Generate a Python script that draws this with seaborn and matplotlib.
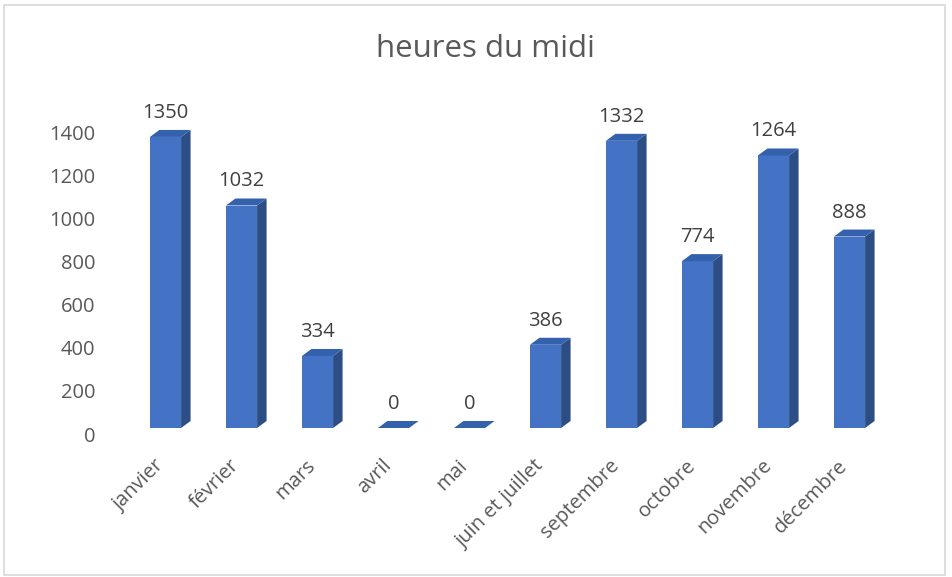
import matplotlib
matplotlib.use("Agg")
import matplotlib.pyplot as plt
import matplotlib.transforms as mtransforms
from matplotlib.patches import Polygon, Rectangle
import seaborn as sns
import pandas as pd

months = ["janvier", "février", "mars", "avril", "mai", "juin et juillet",
          "septembre", "octobre", "novembre", "décembre"]
hours = [1350, 1032, 334, 0, 0, 386, 1332, 774, 1264, 888]
yticks = [0, 200, 400, 600, 800, 1000, 1200, 1400]
title = "heures du midi"

df = pd.DataFrame({"mois": months, "heures": hours})

sns.set_theme(style="white")
plt.rcParams["font.family"] = ["Open Sans", "DejaVu Sans"]

W, H, DPI = 953, 577, 100
fig = plt.figure(figsize=(W / DPI, H / DPI), dpi=DPI)
fig.patch.set_facecolor("white")
fig.add_artist(Rectangle((4 / W, 1 - 575 / H), 941 / W, 570 / H, transform=fig.transFigure,
                         fill=False, edgecolor="#d9d9d9", linewidth=1.2))

ax_left, ax_right = 127.5, 887.5
ax_bottom_px, ymax = 428, 1500
px_per_unit = 0.2156
ax_top_px = ax_bottom_px - ymax * px_per_unit
ax = fig.add_axes([ax_left / W, 1 - ax_bottom_px / H, (ax_right - ax_left) / W,
                   (ax_bottom_px - ax_top_px) / H])

sns.barplot(data=df, x="mois", y="heures", color="#4472C4", saturation=1, width=0.41,
            linewidth=0, ax=ax)
ax.set_xlim(-0.5, len(months) - 0.5)
ax.set_ylim(0, ymax)

# 3D depth offsets
dx_px, dy_px = 9.5, 7.0
dx = dx_px / 76.0
dy = dy_px / px_per_unit
side_c, top_c = "#2D4E85", "#3461AC"
for p, v in zip(ax.patches, hours):
    x0 = p.get_x()
    w = p.get_width()
    x1 = x0 + w
    h = p.get_height()
    if h > 0:
        side = Polygon([(x1, 0), (x1 + dx, dy), (x1 + dx, h + dy), (x1, h)], closed=True,
                       facecolor=side_c, edgecolor="none", clip_on=False)
        ax.add_patch(side)
    top = Polygon([(x0, h), (x1, h), (x1 + dx, h + dy), (x0 + dx, h + dy)], closed=True,
                  facecolor=top_c, edgecolor="none", clip_on=False)
    ax.add_patch(top)
    ax.annotate(f"{v}", xy=(x0 + w / 2, h), xytext=(0, 17.3), textcoords="offset points",
                ha="center", va="center", fontsize=14.5, color="#404040")

ax.set_yticks(yticks)
ax.set_yticklabels([str(t) for t in yticks], fontsize=14.5, color="#595959")
ax.tick_params(axis="y", length=0, pad=23)
off_y = mtransforms.ScaledTranslation(0, -6 / 100, fig.dpi_scale_trans)
for lab in ax.get_yticklabels():
    lab.set_transform(lab.get_transform() + off_y)

ax.set_xticks(range(len(months)))
ax.set_xticklabels(months, rotation=45, ha="right", rotation_mode="anchor",
                   fontsize=14.5, color="#595959")
ax.tick_params(axis="x", length=0, pad=20)
off_x = mtransforms.ScaledTranslation(-12 / 100, 0, fig.dpi_scale_trans)
for lab in ax.get_xticklabels():
    lab.set_transform(lab.get_transform() + off_x)

ax.set_xlabel("")
ax.set_ylabel("")
for s in ax.spines.values():
    s.set_visible(False)
ax.patch.set_alpha(0)

fig.text(485 / W, 1 - 49 / H, title, ha="center", va="center", fontsize=22.5, color="#595959")

fig.savefig("out.png", dpi=DPI)
